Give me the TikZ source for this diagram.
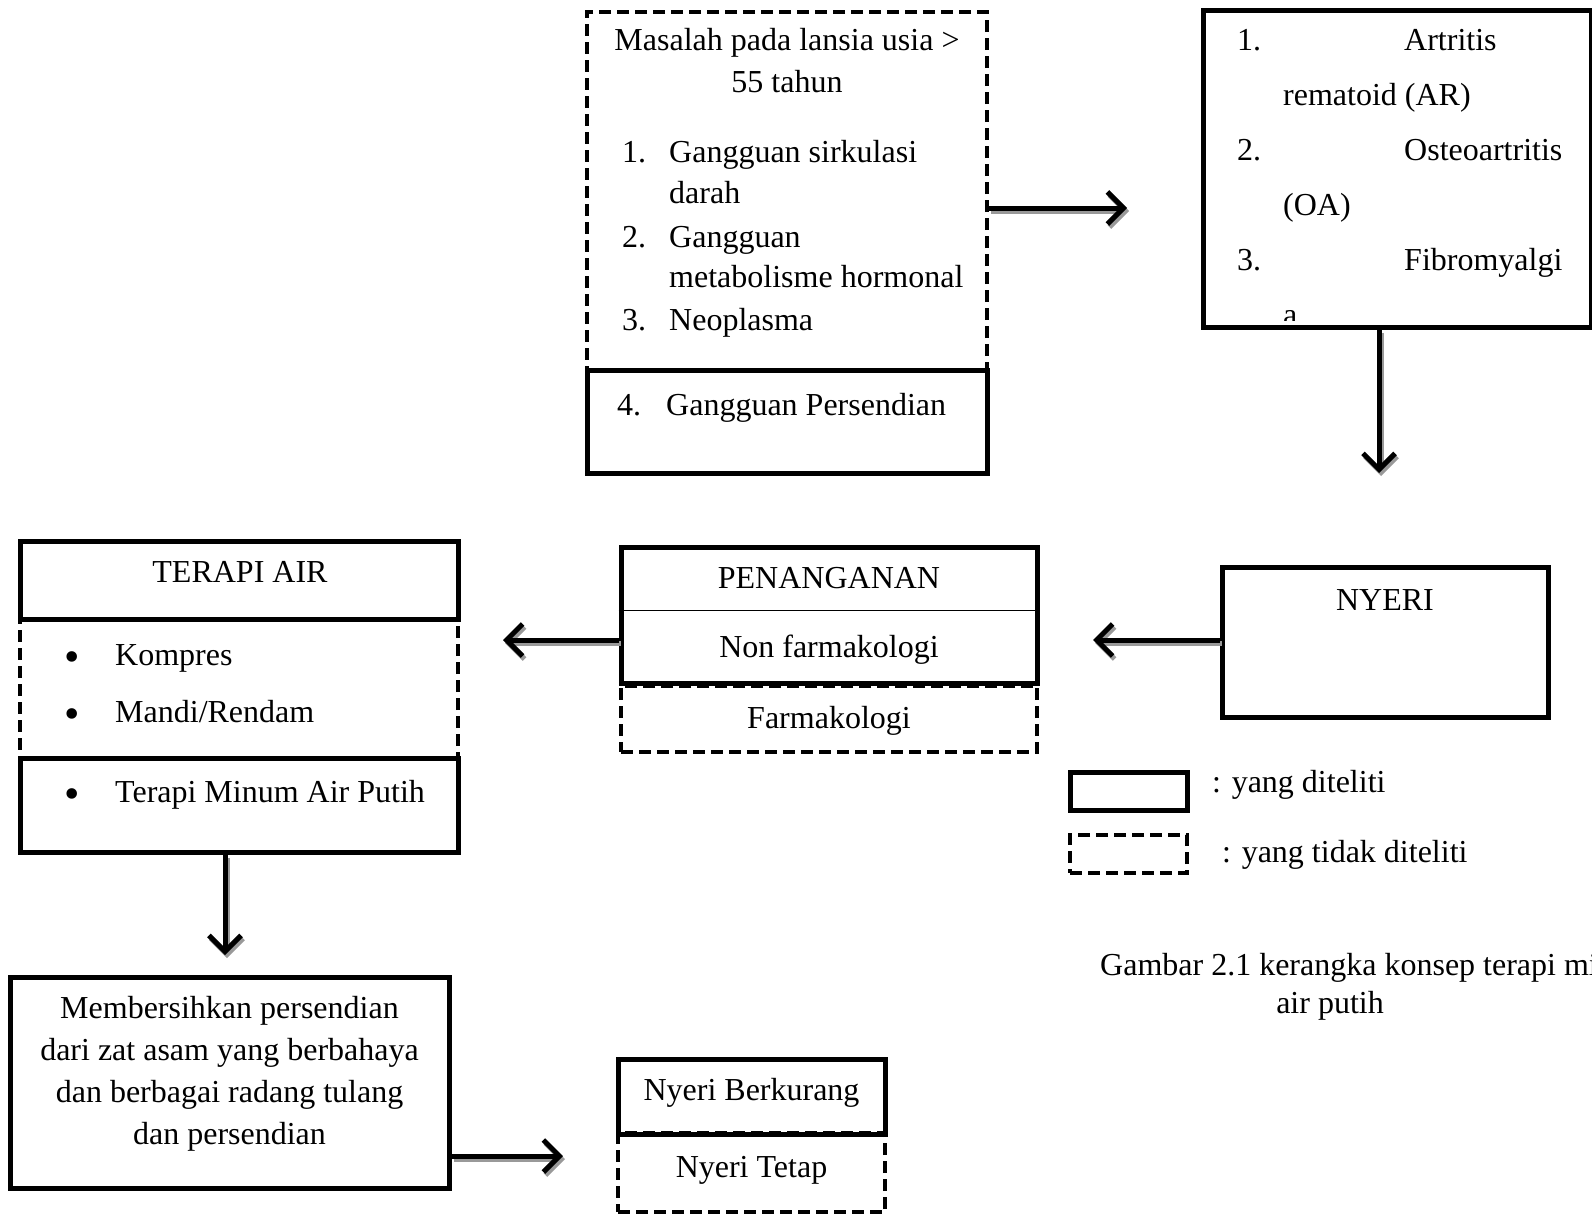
\documentclass[tikz,border=0pt]{standalone}
\usepackage{fontspec}
\setmainfont{Liberation Serif}
\usetikzlibrary{arrows.meta,positioning}

\begin{document}
\begin{tikzpicture}[x=1pt, y=-1pt,
    every node/.style={font=\fontsize{32}{42}\selectfont, inner sep=0pt},
    solidbox/.style={draw, line width=5pt, rectangle},
    dashbox/.style={draw, line width=4pt, dash pattern=on 12pt off 6pt, rectangle},
    txt/.style={anchor=base west},
    ctxt/.style={anchor=base},
    bul/.style={anchor=base, font=\fontsize{44}{42}\selectfont},
    arr/.style={line width=5pt, -{Straight Barb[length=16pt, width=32pt]}},
    arrshadow/.style={arr, draw=black!40, transform canvas={shift={(2pt,-3pt)}}}]
    \useasboundingbox (0,0) rectangle (1592,1216);
    % Masalah pada lansia
    \node[dashbox, minimum width=400pt, minimum height=358pt] (masalah) at (787,191) {};
    \node[solidbox, minimum width=400pt, minimum height=103pt] (sendi) at (787,421.5) {};
    \node[ctxt] (judul1) at (787,50) {Masalah pada lansia usia >};
    \node[ctxt] (judul2) at (787,92) {55 tahun};
    \node[txt] (n1) at (622,162) {1.};
    \node[txt] (m1) at (669,162) {Gangguan sirkulasi};
    \node[txt] (m1b) at (669,203) {darah};
    \node[txt] (n2) at (622,247) {2.};
    \node[txt] (m2) at (669,247) {Gangguan};
    \node[txt] (m2b) at (669,287) {metabolisme hormonal};
    \node[txt] (n3) at (622,330) {3.};
    \node[txt] (m3) at (669,330) {Neoplasma};
    \node[txt] (n4) at (617,415) {4.};
    \node[txt] (m4) at (666,415) {Gangguan Persendian};
    % Jenis penyakit sendi
    \node[solidbox, minimum width=388pt, minimum height=317pt] (penyakit) at (1397,168.5) {};
    \node[txt] (p1) at (1237,50) {1.};
    \node[txt] (p1a) at (1404,50) {Artritis};
    \node[txt] (p1b) at (1283,105) {rematoid (AR)};
    \node[txt] (p2) at (1237,160) {2.};
    \node[txt] (p2a) at (1404,160) {Osteoartritis};
    \node[txt] (p2b) at (1283,215) {(OA)};
    \node[txt] (p3) at (1237,270) {3.};
    \node[txt] (p3a) at (1404,270) {Fibromyalgi};
    \begin{scope}
        \clip (1206,12) rectangle (1588,320);
        \node[txt] (p3b) at (1283,325) {a};
    \end{scope}
    % Nyeri
    \node[solidbox, minimum width=326pt, minimum height=150pt] (nyeri) at (1385,642) {};
    \node[ctxt] (nyerit) at (1385,610) {NYERI};
    % Penanganan
    \node[dashbox, minimum width=416pt, minimum height=66pt] (farmako) at (829,719) {};
    \node[solidbox, minimum width=416pt, minimum height=136pt] (pen) at (829,615) {};
    \draw[line width=1.2pt] ([yshift=-66pt]pen.north west) -- ([yshift=-66pt]pen.north east);
    \node[ctxt] (pent) at (829,588) {PENANGANAN};
    \node[ctxt] (nonf) at (829,657) {Non farmakologi};
    \node[ctxt] (farm) at (829,728) {Farmakologi};
    % Terapi air
    \node[dashbox, minimum width=438pt, minimum height=139pt] (airisi) at (239,688.5) {};
    \node[solidbox, minimum width=438pt, minimum height=78pt] (terapi) at (239,580) {};
    \node[solidbox, minimum width=438pt, minimum height=94pt] (minum) at (239,805) {};
    \node[ctxt] (terapit) at (240,582) {TERAPI AIR};
    \node[bul] (b1) at (72,671) {•};
    \node[txt] (t1) at (115,665) {Kompres};
    \node[bul] (b2) at (72,728) {•};
    \node[txt] (t2) at (115,722) {Mandi/Rendam};
    \node[bul] (b3) at (72,808) {•};
    \node[txt] (t3) at (115,802) {Terapi Minum Air Putih};
    % Manfaat
    \node[solidbox, minimum width=439pt, minimum height=211pt] (bersih) at (229.5,1082.5) {};
    \node[align=center] (bersiht) at (229.5,1074) {Membersihkan persendian\\dari zat asam yang berbahaya\\dan berbagai radang tulang\\dan persendian};
    % Hasil
    \node[dashbox, minimum width=267pt, minimum height=79pt] (tetap) at (751.5,1172.5) {};
    \node[solidbox, minimum width=267pt, minimum height=75pt] (kurang) at (751.5,1096.5) {};
    \node[ctxt] (kurangt) at (751.5,1100) {Nyeri Berkurang};
    \node[ctxt] (tetapt) at (751.5,1177) {Nyeri Tetap};
    % Keterangan
    \node[solidbox, minimum width=117pt, minimum height=38pt] (ket1) at (1128.5,791) {};
    \node[dashbox, minimum width=117pt, minimum height=38pt] (ket2) at (1128.5,854) {};
    \node[txt] (ket1t) at (1212,792) {: yang diteliti};
    \node[txt] (ket2t) at (1222,862) {: yang tidak diteliti};
    % Judul gambar
    \node[txt] (cap1) at (1100,975) {Gambar 2.1 kerangka konsep terapi mi};
    \node[ctxt] (cap2) at (1330,1013) {air putih};
    % Panah
    \coordinate (a1) at (1127,208);
    \coordinate (a2) at (1379,473);
    \coordinate (a3) at (1093,640);
    \coordinate (a4) at (503,640);
    \coordinate (a5) at (225,955);
    \coordinate (a6) at (563,1156);
    \draw[arrshadow] (masalah.east |- a1) -- (a1);
    \draw[arr] (masalah.east |- a1) -- (a1);
    \draw[arrshadow] (penyakit.south -| a2) -- (a2);
    \draw[arr] (penyakit.south -| a2) -- (a2);
    \draw[arrshadow] (nyeri.west |- a3) -- (a3);
    \draw[arr] (nyeri.west |- a3) -- (a3);
    \draw[arrshadow] (pen.west |- a4) -- (a4);
    \draw[arr] (pen.west |- a4) -- (a4);
    \draw[arrshadow] (minum.south -| a5) -- (a5);
    \draw[arr] (minum.south -| a5) -- (a5);
    \draw[arrshadow] (bersih.east |- a6) -- (a6);
    \draw[arr] (bersih.east |- a6) -- (a6);
\end{tikzpicture}
\end{document}
